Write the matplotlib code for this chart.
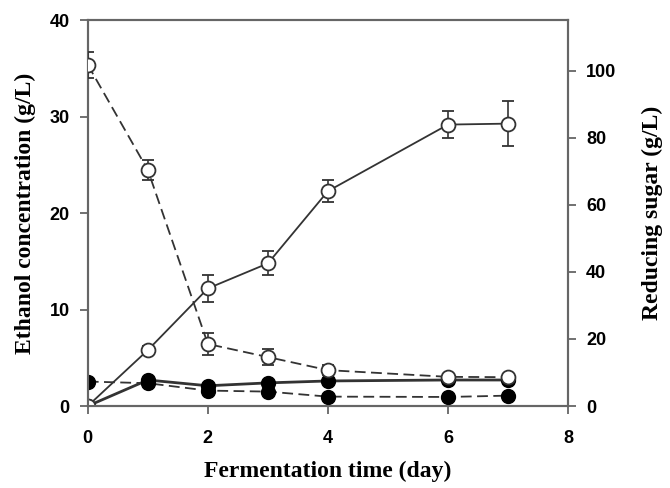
import numpy as np
import matplotlib.pyplot as plt

# fermentation time (day)
days = [0, 1, 2, 3, 4, 6, 7]

# ethanol (g/L), left axis
eth_open = [0, 5.8, 12.2, 14.8, 22.3, 29.2, 29.3]
eth_open_err = [0, 0.4, 1.4, 1.25, 1.1, 1.4, 2.3]
eth_fill = [0, 2.7, 2.1, 2.4, 2.6, 2.7, 2.7]

# reducing sugar (g/L), right axis
sug_open = [101.8, 70.4, 18.5, 14.6, 10.7, 8.7, 8.6]
sug_open_err = [3.9, 3.0, 3.3, 2.4, 1.5, 0.5, 0.5]
sug_fill = [7.3, 6.8, 4.6, 4.3, 2.8, 2.7, 3.1]

xticks = [0, 2, 4, 6, 8]
lticks = [0, 10, 20, 30, 40]
rticks = [0, 20, 40, 60, 80, 100]

plt.rcParams['font.family'] = 'Liberation Sans'
plt.rcParams['font.weight'] = 'bold'

lc = '#333333'
sc = '#666666'

fig = plt.figure(figsize=(6.7, 4.88), dpi=100)
ax = fig.add_axes([0.131, 0.168, 0.717, 0.790])
ax2 = ax.twinx()

# ethanol
ax.errorbar(days, eth_open, yerr=eth_open_err, color=lc, lw=1.3, marker='o',
            ms=10, mfc='white', mec=lc, mew=1.3, capsize=4.5, elinewidth=1.2,
            capthick=1.2, zorder=3)
ax.plot(days, eth_fill, color=lc, lw=2.0, marker='o', ms=10, mfc='black',
        mec='black', zorder=2)

# reducing sugar
ax2.plot(days, sug_fill, color=lc, lw=1.3, ls=(0, (6, 3)), marker='o', ms=10,
         mfc='black', mec='black', zorder=2)
ax2.errorbar(days, sug_open, yerr=sug_open_err, color=lc, lw=1.3,
             ls=(0, (6, 3)), marker='o', ms=10, mfc='white', mec=lc, mew=1.3,
             capsize=4.5, elinewidth=1.2, capthick=1.2, zorder=3)

ax.set_xlim(0, 8)
ax.set_ylim(0, 40)
ax2.set_ylim(0, 115)
ax.set_xticks(xticks)
ax.set_yticks(lticks)
ax2.set_yticks(rticks)

for a in (ax, ax2):
    for s in a.spines.values():
        s.set_color(sc)
        s.set_linewidth(1.5)
    a.tick_params(direction='out', length=6, width=1.3, color=sc,
                  labelsize=13, pad=7)
ax.tick_params(axis='x', pad=11)
ax.tick_params(top=False)

ax.set_xlabel('Fermentation time (day)', fontfamily='Liberation Serif',
              fontweight='bold', fontsize=17, labelpad=10)
ax.set_ylabel('Ethanol concentration (g/L)', fontfamily='Liberation Serif',
              fontweight='bold', fontsize=17, labelpad=10)
ax2.set_ylabel('Reducing sugar (g/L)', fontfamily='Liberation Serif',
               fontweight='bold', fontsize=17, labelpad=18)

fig.savefig('out.png', dpi=100)
